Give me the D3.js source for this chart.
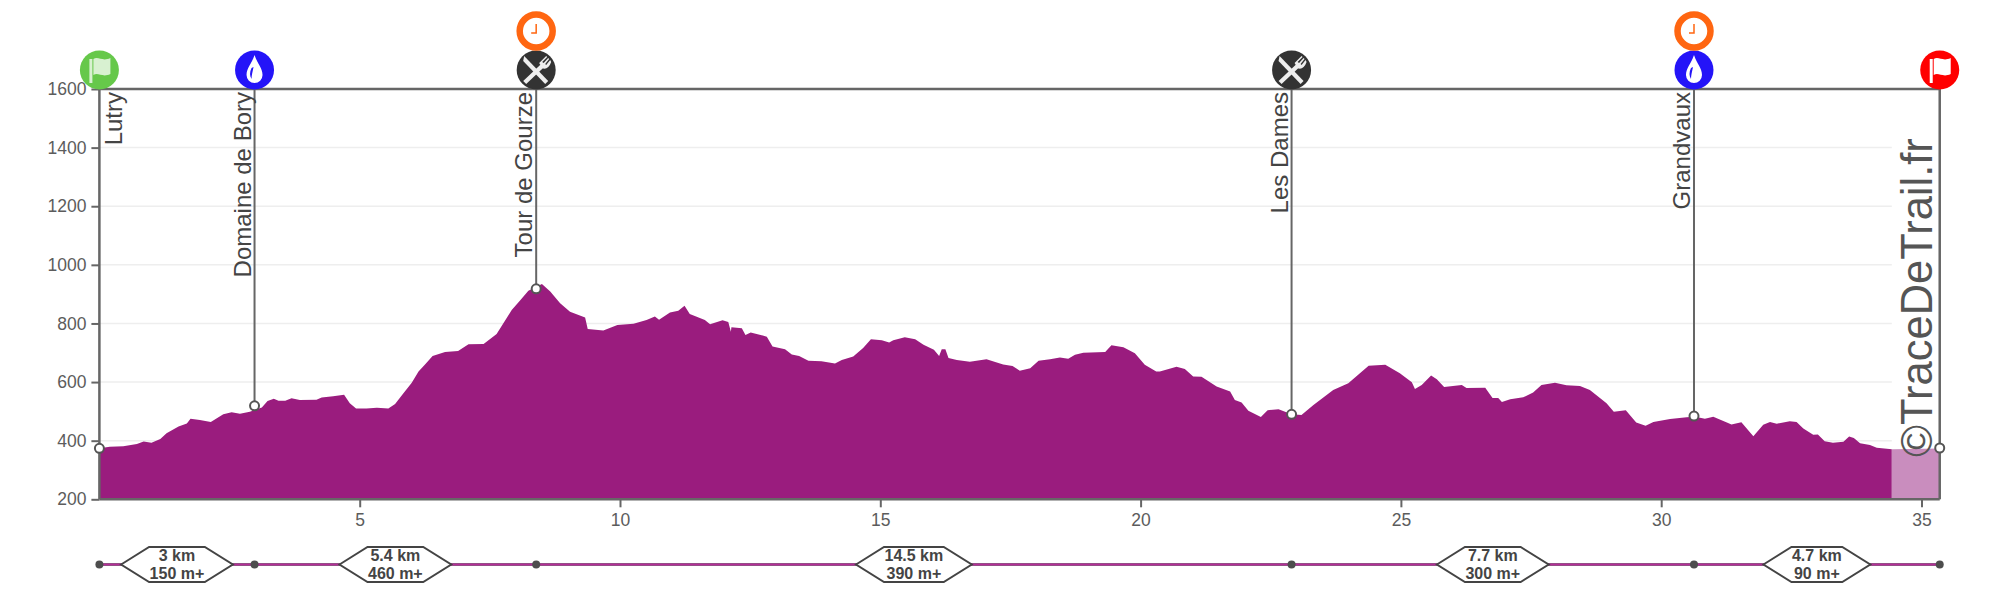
<!DOCTYPE html>
<html>
<head>
<meta charset="utf-8">
<script src="https://cdn.jsdelivr.net/npm/d3@7"></script>
<style>
  body { margin: 0; background: #fff; }
  text { font-family: "Liberation Sans", Arial, sans-serif; }
</style>
</head>
<body>
<script>
// elevation profile
const kms = [0, .2, .46, .72, .85, 1, 1.17, 1.29, 1.52, 1.68, 1.75, 1.93, 2.14, 2.38, 2.54, 2.7, 2.89, 3.12, 3.23, 3.35, 3.44, 3.57, 3.69, 3.85, 4.17, 4.27, 4.49, 4.7, 4.81, 4.93, 5.13, 5.33, 5.55, 5.68, 5.84, 6, 6.13, 6.25, 6.4, 6.64, 6.89, 7.09, 7.38, 7.63, 7.92, 8.08, 8.24, 8.5, 8.66, 8.85, 9.04, 9.33, 9.38, 9.68, 9.95, 10.26, 10.51, 10.67, 10.75, 10.96, 11.12, 11.24, 11.34, 11.63, 11.73, 11.97, 12.08, 12.13, 12.14, 12.34, 12.41, 12.51, 12.72, 12.82, 12.93, 13.17, 13.3, 13.44, 13.62, 13.87, 14.13, 14.26, 14.48, 14.67, 14.82, 15.03, 15.17, 15.25, 15.47, 15.67, 15.83, 16.03, 16.13, 16.18, 16.25, 16.31, 16.47, 16.72, 17.04, 17.36, 17.54, 17.68, 17.88, 18.04, 18.26, 18.45, 18.61, 18.74, 18.9, 19.32, 19.44, 19.67, 19.89, 20.08, 20.3, 20.37, 20.69, 20.85, 21.01, 21.17, 21.46, 21.72, 21.81, 21.94, 22.07, 22.31, 22.44, 22.65, 22.9, 23.09, 23.32, 23.51, 23.7, 23.99, 24.38, 24.7, 24.98, 25.21, 25.27, 25.4, 25.58, 25.69, 25.83, 26.17, 26.26, 26.62, 26.76, 26.87, 26.94, 27.1, 27.35, 27.54, 27.7, 27.96, 28.18, 28.44, 28.63, 28.95, 29.09, 29.32, 29.52, 29.7, 29.85, 30.17, 30.49, 30.65, 30.84, 31, 31.25, 31.35, 31.54, 31.77, 31.96, 32.09, 32.22, 32.47, 32.6, 32.73, 32.92, 33.01, 33.14, 33.3, 33.5, 33.61, 33.7, 33.82, 34.01, 34.14, 34.43, 35.35];
const elevations = [374, 379, 381, 389, 397, 393, 406, 425, 448, 459, 475, 471, 464, 490, 497, 492, 499, 513, 535, 543, 536, 536, 545, 539, 540, 547, 552, 557, 528, 510, 510, 512, 510, 525, 562, 598, 636, 659, 689, 703, 706, 729, 730, 764, 846, 878, 912, 935, 909, 869, 840, 820, 781, 776, 795, 799, 812, 824, 813, 837, 843, 860, 832, 812, 797, 811, 805, 772, 787, 784, 761, 769, 760, 755, 721, 712, 694, 689, 673, 671, 663, 675, 687, 716, 746, 743, 735, 743, 753, 746, 727, 710, 689, 712, 712, 682, 675, 669, 678, 660, 655, 639, 647, 673, 678, 684, 680, 693, 700, 703, 726, 719, 698, 659, 636, 636, 652, 645, 619, 618, 585, 568, 539, 530, 502, 481, 504, 507, 490, 488, 522, 547, 573, 596, 656, 659, 630, 599, 576, 590, 622, 610, 583, 590, 580, 581, 546, 546, 532, 541, 548, 564, 590, 598, 589, 587, 573, 528, 499, 504, 462, 451, 464, 474, 480, 482, 475, 482, 463, 455, 463, 415, 454, 464, 458, 466, 464, 442, 420, 421, 398, 393, 396, 414, 409, 391, 385, 376, 371, 373];

// aid stations
const stopNames = ["Lutry", "Domaine de Bory", "Tour de Gourze", "Les Dames", "Grandvaux", ""];
const stopKm = [0, 2.98, 8.39, 22.9, 30.63, 35.35];
const stopElevation = [374, 519, 918, 490, 484, 375];
const stopIcons = ["start", "water", "food", "food", "water", "finish"];
const stopHasClock = [false, false, true, false, true, false];

// sections between stations
const sectionDistance = ["3 km", "5.4 km", "14.5 km", "7.7 km", "4.7 km"];
const sectionGain = ["150 m+", "460 m+", "390 m+", "300 m+", "90 m+"];

const kmTicks = [5, 10, 15, 20, 25, 30, 35];
const elevationTicks = [200, 400, 600, 800, 1000, 1200, 1400, 1600];
const lastSectionStart = 34.43;

const GREY = "#666";
const TEXT = "#5c5c5c";
const PURPLE = "#9a1c7e";

const x = d3.scaleLinear().domain([0, 5]).range([99.4, 359.7]);
const y = d3.scaleLinear().domain([200, 1600]).range([499.3, 89]);
const xEnd = x(35.35);

const svg = d3.select("body").append("svg")
  .attr("width", 2000)
  .attr("height", 600)
  .style("display", "block");

// gridlines stop where the pale last bit starts
svg.append("g")
  .selectAll("line")
  .data(elevationTicks.slice(1, -1))
  .enter()
  .append("line")
  .attr("x1", x(0))
  .attr("x2", x(lastSectionStart))
  .attr("y1", d => y(d))
  .attr("y2", d => y(d))
  .attr("stroke", "#eee")
  .attr("stroke-width", 1.5);

// profile
const profile = kms.map((k, i) => [k, elevations[i]]);
const area = d3.area()
  .x(d => x(d[0]))
  .y0(y(200))
  .y1(d => y(d[1]));

svg.append("path")
  .attr("d", area(profile.filter(d => d[0] <= lastSectionStart)))
  .attr("fill", PURPLE);

// last bit is drawn paler
svg.append("path")
  .attr("d", area(profile.filter(d => d[0] >= lastSectionStart)))
  .attr("fill", "#c98dbe");

// axes
const yAxis = d3.axisLeft(y).tickValues(elevationTicks).tickFormat(d3.format("d")).tickSize(8).tickPadding(5);
const xAxis = d3.axisBottom(x).tickValues(kmTicks).tickFormat(d3.format("d")).tickSize(8).tickPadding(6);

const yG = svg.append("g").attr("transform", "translate(" + x(0) + ",0)").call(yAxis);
const xG = svg.append("g").attr("transform", "translate(0," + y(200) + ")").call(xAxis);

[yG, xG].forEach(g => {
  g.select(".domain").remove();
  g.selectAll("line").attr("stroke", GREY).attr("stroke-width", 2);
  g.selectAll("text")
    .attr("fill", TEXT)
    .style("font-size", "17.5px");
});

// frame: top, bottom
svg.append("line").attr("x1", x(0)).attr("x2", xEnd).attr("y1", y(1600)).attr("y2", y(1600))
  .attr("stroke", GREY).attr("stroke-width", 2.5);
svg.append("line").attr("x1", x(0)).attr("x2", xEnd).attr("y1", y(200)).attr("y2", y(200))
  .attr("stroke", GREY).attr("stroke-width", 2.5);

// watermark
svg.append("text")
  .attr("transform", "translate(1932,457) rotate(-90)")
  .attr("font-size", "43.5px")
  .attr("fill", "#555")
  .text("\u00a9TraceDeTrail.fr");

// stops
const stops = stopKm.map((k, i) => ({
  km: k,
  ele: stopElevation[i],
  name: stopNames[i],
  icon: stopIcons[i],
  clock: stopHasClock[i]
}));

const stopG = svg.append("g")
  .selectAll("g")
  .data(stops)
  .enter()
  .append("g")
  .attr("transform", d => "translate(" + x(d.km) + ",0)");

stopG.append("line")
  .attr("y1", y(1600))
  .attr("y2", d => y(d.ele))
  .attr("stroke", GREY)
  .attr("stroke-width", (d, i) => (i == 0 || i == 5 ? 2.5 : 2));

// first and last stop also close the frame down to the axis
stopG.filter(d => d.km == 0 || d.km == 35.35)
  .append("line")
  .attr("y1", d => y(d.ele))
  .attr("y2", y(200))
  .attr("stroke", GREY)
  .attr("stroke-width", 2.5);

stopG.append("circle")
  .attr("cy", d => y(d.ele))
  .attr("r", 4.5)
  .attr("fill", "#fff")
  .attr("stroke", "#555")
  .attr("stroke-width", 2);

stopG.append("text")
  .attr("transform", (d, i) => "translate(" + (i == 0 ? 23 : -4) + ",92) rotate(-90)")
  .attr("text-anchor", "end")
  .attr("font-size", "24px")
  .attr("fill", "#444")
  .text(d => d.name);

const iconColor = { start: "#66c84a", water: "#2414f8", food: "#333", finish: "#ff0000" };

stopG.append("circle")
  .attr("cy", 70)
  .attr("r", 19.5)
  .attr("fill", d => iconColor[d.icon]);

function drawFlag(g) {
  g.append("path")
    .attr("d", "M-10,-11 h3 v24 h-3 Z M-6,-11 C-1,-14 3,-8 11,-12 V4 C3,8 -1,2 -6,5 Z")
    .attr("fill", "#fff")
    .attr("fill-opacity", d => d.icon == "start" ? 0.75 : 1);
}

function drawDrop(g) {
  g.append("path")
    .attr("d", "M0,-15 C3,-6 8,-2 8,5 A8,8 0 0 1 -8,5 C-8,-2 -3,-6 0,-15 Z")
    .attr("fill", "#fff");
  g.append("path")
    .attr("d", "M-3,-2 C-5,2 -5,6 -3,9 C-3,5 -2,2 -1,-3 Z")
    .attr("fill", iconColor.water);
}

function drawCutlery(g) {
  // knife
  g.append("path")
    .attr("d", "M-12,-14 L12,11 L9,14 L-13,-9 Z")
    .attr("fill", "#eee");
  // fork
  g.append("path")
    .attr("d", "M-13,11 L5,-6 L8,-3 L-10,14 Z M3,-7 L10,-14 L11,-13 L6,-8 L7.5,-7 L12,-12 L13,-11 L9,-6 L10,-5 L14,-10 L15,-8 C13,-2 9,0 6,-2 Z")
    .attr("fill", "#eee");
}

const iconG = stopG.append("g").attr("transform", "translate(0,70)");
drawFlag(iconG.filter(d => d.icon == "start" || d.icon == "finish"));
drawDrop(iconG.filter(d => d.icon == "water"));
drawCutlery(iconG.filter(d => d.icon == "food"));

// clock above some stops
const clockG = stopG.filter(d => d.clock).append("g").attr("transform", "translate(0,31)");
clockG.append("circle")
  .attr("r", 16.5)
  .attr("fill", "#fff")
  .attr("stroke", "#ff6611")
  .attr("stroke-width", 6.5);
clockG.append("path")
  .attr("d", "M0,-7 V2 H-5")
  .attr("fill", "none")
  .attr("stroke", "#ff6611")
  .attr("stroke-width", 1.5);

// section strip at the bottom
const stripY = 564.5;
const strip = svg.append("g");

strip.append("line")
  .attr("x1", x(0))
  .attr("x2", xEnd)
  .attr("y1", stripY)
  .attr("y2", stripY)
  .attr("stroke", "#8a5a80")
  .attr("stroke-width", 3);
strip.append("line")
  .attr("x1", x(0))
  .attr("x2", xEnd)
  .attr("y1", stripY)
  .attr("y2", stripY)
  .attr("stroke", "#b52d98")
  .attr("stroke-width", 1.5);

strip.selectAll("circle")
  .data(stopKm)
  .enter()
  .append("circle")
  .attr("cx", d => x(d))
  .attr("cy", stripY)
  .attr("r", 4)
  .attr("fill", "#4d4d4d");

const sections = sectionDistance.map((t, i) => ({
  distance: t,
  gain: sectionGain[i],
  mid: (stopKm[i] + stopKm[i + 1]) / 2
}));

const sectionG = strip.selectAll("g")
  .data(sections)
  .enter()
  .append("g")
  .attr("transform", d => "translate(" + x(d.mid) + "," + stripY + ")");

const hex = sectionG.append("path")
  .attr("fill", "#fff")
  .attr("stroke", "#444")
  .attr("stroke-width", 2);

sectionG.append("text")
  .attr("class", "l1")
  .attr("text-anchor", "middle")
  .attr("y", -3.5)
  .attr("font-size", "16px")
  .attr("font-weight", "bold")
  .attr("fill", "#444")
  .text(d => d.distance);

sectionG.append("text")
  .attr("class", "l2")
  .attr("text-anchor", "middle")
  .attr("y", 14.5)
  .attr("font-size", "16px")
  .attr("font-weight", "bold")
  .attr("fill", "#444")
  .text(d => d.gain);

// hexagon size follows the wider of the two lines
sectionG.each(function() {
  const g = d3.select(this);
  const w = Math.max(
    g.select(".l1").node().getComputedTextLength(),
    g.select(".l2").node().getComputedTextLength()
  );
  const half = (w + 57) / 2;
  const inner = half - 28;
  g.select("path").attr("d",
    "M" + -half + ",0 L" + -inner + ",-17.5 H" + inner + " L" + half + ",0 L" + inner + ",17.5 H" + -inner + " Z");
});
</script>
</body>
</html>
